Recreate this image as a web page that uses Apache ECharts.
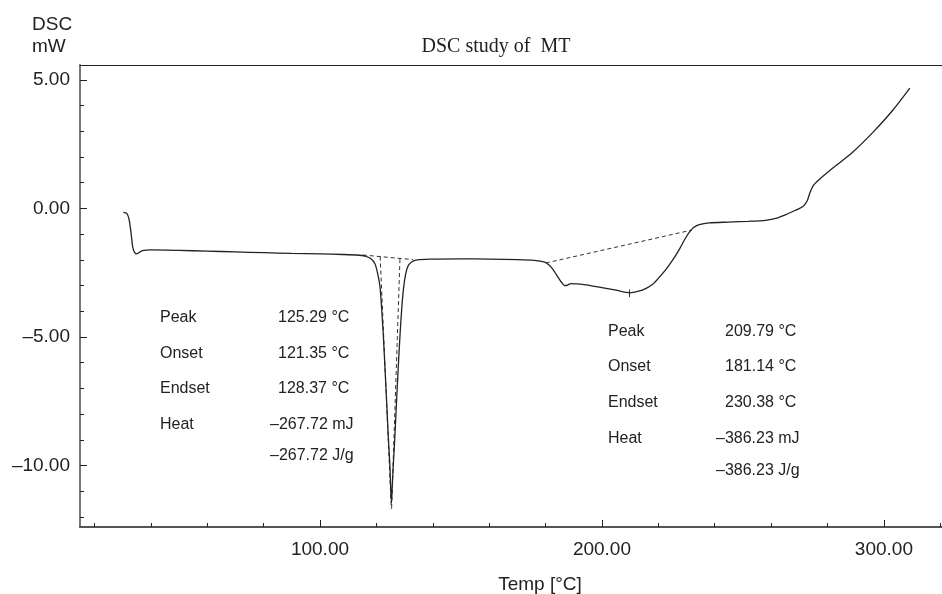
<!DOCTYPE html>
<html>
<head>
<meta charset="utf-8">
<script src="https://cdn.jsdelivr.net/npm/echarts@6/dist/echarts.min.js"></script>
<style>html,body{margin:0;padding:0;background:#fff}#c{width:942px;height:594px}</style>
</head>
<body>
<div id="c"></div>
<script>
// ---- data ----
const temp = [30.3,31.5,32.3,33.0,33.6,34.3,35.0,35.8,37.0,40.0,50.0,60.0,70.0,80.0,90.0,100.0,108.0,113.0,116.0,118.0,119.5,120.5,121.3,122.0,122.5,123.1,123.6,124.2,124.8,125.1,125.35,125.6,126.0,126.6,127.2,127.8,128.4,129.0,129.6,130.3,131.2,132.5,134.5,139.0,150.0,160.0,170.0,176.0,179.5,181.0,182.5,184.0,185.5,186.8,187.8,189.0,190.5,195.0,200.0,205.0,209.8,213.0,215.5,218.0,220.0,222.5,225.0,227.5,229.5,231.0,232.5,234.5,238.0,245.0,252.0,258.0,262.0,265.0,268.5,271.5,272.8,273.8,275.0,277.0,282.0,289.0,296.0,303.0,309.2];
const dsc = [-0.15,-0.19,-0.42,-0.95,-1.50,-1.72,-1.77,-1.72,-1.64,-1.61,-1.63,-1.66,-1.69,-1.72,-1.75,-1.77,-1.79,-1.81,-1.85,-1.95,-2.15,-2.55,-3.05,-4.1,-5.0,-6.3,-7.4,-8.8,-10.0,-10.9,-11.45,-10.9,-10.0,-8.8,-7.4,-6.1,-4.9,-3.9,-3.15,-2.6,-2.25,-2.08,-2.0,-1.97,-1.96,-1.97,-1.99,-2.02,-2.08,-2.18,-2.35,-2.6,-2.85,-3.0,-2.98,-2.92,-2.93,-2.98,-3.08,-3.18,-3.28,-3.22,-3.12,-2.95,-2.72,-2.4,-2.02,-1.58,-1.18,-0.92,-0.74,-0.63,-0.56,-0.53,-0.5,-0.46,-0.38,-0.25,-0.08,0.1,0.3,0.62,0.9,1.12,1.58,2.2,2.95,3.8,4.68];

const baseline1 = [[115.2,-1.81],[133.0,-1.99]];
const tangentLeft1 = [[121.35,-1.87],[125.3,-11.7]];
const tangentRight1 = [[128.37,-1.97],[125.4,-11.7]];
const baseline2 = [[180.1,-2.12],[231.9,-0.84]];
const peakMark2 = [[209.79,-3.15],[209.79,-3.45]];

const xMinorTicks = [20,40,60,80,100,120,140,160,180,200,220,240,260,280,300,320];
const xMajorTicks = [100,200,300];
const yMinorTicks = [-12,-11,-10,-9,-8,-7,-6,-5,-4,-3,-2,-1,0,1,2,3,4,5];
const yMajorTicks = [-10,-5,0,5];

const title = 'DSC study of  MT';
const yTitle = ['DSC','mW'];
const xTitle = 'Temp [°C]';
const names1 = ['Peak','Onset','Endset','Heat'];
const values1 = ['125.29 °C','121.35 °C','128.37 °C','–267.72 mJ','–267.72 J/g'];
const names2 = ['Peak','Onset','Endset','Heat'];
const values2 = ['209.79 °C','181.14 °C','230.38 °C','–386.23 mJ','–386.23 J/g'];

// ---- chart ----
const chart = echarts.init(document.getElementById('c'), null, {renderer:'canvas'});
const FONT = 'Liberation Sans, Arial, sans-serif';
const fmt = v => (v < 0 ? '–' + Math.abs(v).toFixed(2) : Math.abs(v).toFixed(2));
const X_MIN = 14.9, X_MAX = 320.6, Y_MIN = -12.39, Y_MAX = 5.58;

const txt = (t, x, y, size, align, family) => ({
  type:'text', silent:true,
  style:{text:t, x:x, y:y, font: size + 'px ' + (family || FONT), fill:'#222', textAlign:align||'left', textVerticalAlign:'middle'}
});

const graphics = [];
graphics.push(txt(yTitle[0], 32, 25, 19));
graphics.push(txt(yTitle[1], 32, 47, 19));
graphics.push(txt(title, 496, 47, 20, 'center', '"Liberation Serif", "Times New Roman", serif'));
graphics.push(txt(xTitle, 540, 585, 19, 'center'));
const ys1 = [318, 354, 389, 425, 456];
names1.forEach((n,i)=>graphics.push(txt(n, 160, ys1[i], 16)));
values1.forEach((v,i)=>graphics.push(txt(v, i < 3 ? 278 : 270, ys1[i], 16)));
const ys2 = [332, 367, 403, 439, 471];
names2.forEach((n,i)=>graphics.push(txt(n, 608, ys2[i], 16)));
values2.forEach((v,i)=>graphics.push(txt(v, i < 3 ? 725 : 716, ys2[i], 16)));

const dashSeries = (d) => ({
  type:'line', data:d, xAxisIndex:0, yAxisIndex:0, symbol:'none', silent:true,
  lineStyle:{color:'#333', width:1, type:[4,3]}, z:2
});

const option = {
  backgroundColor:'#fff',
  animation:false,
  grid:{left:80, right:0, top:65, bottom:67, containLabel:false},
  xAxis:[
    {type:'value', min:X_MIN, max:X_MAX, position:'bottom',
     axisLine:{show:true, onZero:false, lineStyle:{color:'#555', width:2}},
     axisTick:{show:true, inside:true, length:4, customValues:xMinorTicks, lineStyle:{color:'#222', width:1}},
     axisLabel:{show:false}, splitLine:{show:false}},
    {type:'value', min:X_MIN, max:X_MAX, position:'bottom',
     axisLine:{show:false, onZero:false},
     axisTick:{show:true, inside:true, length:7, customValues:xMajorTicks, lineStyle:{color:'#222', width:1}},
     axisLabel:{show:true, customValues:xMajorTicks, formatter:fmt, margin:13, fontSize:19, fontFamily:FONT, color:'#222'},
     splitLine:{show:false}},
    {type:'value', min:X_MIN, max:X_MAX, position:'top',
     axisLine:{show:true, onZero:false, lineStyle:{color:'#222', width:1}},
     axisTick:{show:false}, axisLabel:{show:false}, splitLine:{show:false}}
  ],
  yAxis:[
    {type:'value', min:Y_MIN, max:Y_MAX, position:'left',
     axisLine:{show:true, onZero:false, lineStyle:{color:'#777', width:2}},
     axisTick:{show:true, inside:true, length:4, customValues:yMinorTicks, lineStyle:{color:'#222', width:1}},
     axisLabel:{show:false}, splitLine:{show:false}},
    {type:'value', min:Y_MIN, max:Y_MAX, position:'left',
     axisLine:{show:false, onZero:false},
     axisTick:{show:true, inside:true, length:7, customValues:yMajorTicks, lineStyle:{color:'#222', width:1}},
     axisLabel:{show:true, customValues:yMajorTicks, formatter:fmt, margin:10, fontSize:19, fontFamily:FONT, color:'#222'},
     splitLine:{show:false}}
  ],
  series:[
    {type:'line', name:'DSC', data: temp.map((t,i)=>[t, dsc[i]]), xAxisIndex:0, yAxisIndex:0,
     symbol:'none', smooth:0.25, silent:true, lineStyle:{color:'#222', width:1.3}, z:3},
    dashSeries(baseline1),
    dashSeries(tangentLeft1),
    dashSeries(tangentRight1),
    dashSeries(baseline2),
    {type:'line', data:peakMark2, symbol:'none', silent:true, lineStyle:{color:'#333', width:1}, z:2}
  ],
  graphic: graphics
};
chart.setOption(option);
</script>
</body>
</html>
